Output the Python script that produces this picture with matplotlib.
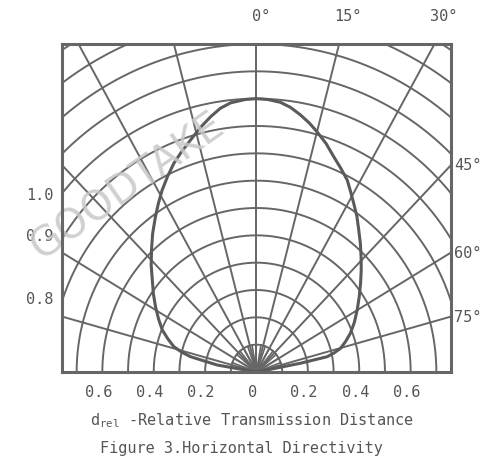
import numpy as np
import matplotlib
matplotlib.use('Agg')
import matplotlib.pyplot as plt
import matplotlib.transforms as mtransforms

# ==========================================
# Data
# ==========================================
# horizontal directivity: angle (deg, 0 = axis) vs relative transmission distance
angle_deg = [-90, -80.5, -77.7, -76.0, -73.9, -70.6, -67.2, -63.0, -58.7, -54.5,
             -50.3, -46.4, -42.5, -38.6, -34.7, -31.8, -28.9, -25.8, -22.8, -19.8,
             -16.8, -13.8, -10.8, -8.3, -5.8, -2.5, 0, 2.5, 5.4, 7.8,
             10.3, 12.7, 15.0, 18.0, 20.9, 23.8, 26.7, 29.0, 31.5, 34.5,
             37.4, 40.7, 44.0, 47.6, 51.3, 55.5, 59.9, 64.5, 68.8, 72.2,
             75.2, 77.0, 78.5, 79.4, 90]
rel_dist = [0.0, 0.155, 0.263, 0.300, 0.335, 0.366, 0.398, 0.428, 0.460, 0.493,
            0.527, 0.566, 0.605, 0.648, 0.691, 0.725, 0.760, 0.795, 0.829, 0.858,
            0.887, 0.920, 0.951, 0.975, 0.990, 0.998, 1.0, 0.998, 0.991, 0.977,
            0.956, 0.934, 0.910, 0.878, 0.843, 0.814, 0.786, 0.755, 0.724, 0.690,
            0.655, 0.620, 0.586, 0.552, 0.519, 0.485, 0.453, 0.422, 0.392, 0.364,
            0.338, 0.310, 0.281, 0.174, 0.0]

x_ticks = [-0.6, -0.4, -0.2, 0, 0.2, 0.4, 0.6]
x_tick_labels = ['0.6', '0.4', '0.2', '0', '0.2', '0.4', '0.6']
top_angle_labels = ['0°', '15°', '30°']
right_angle_labels = ['45°', '60°', '75°']
left_labels = ['1.0', '0.9', '0.8']

GRID = '#666666'
TEXT = '#555555'
FONT = 'DejaVu Sans Mono'
plt.rcParams['font.family'] = FONT
plt.rcParams['mathtext.fontset'] = 'custom'
plt.rcParams['mathtext.rm'] = FONT

fig = plt.figure(figsize=(4.81, 4.61), dpi=100)
ax = fig.add_axes([62 / 481, 1 - 372 / 461, 389 / 481, 328 / 461])
ax.set_xlim(-0.757, 0.757)
ax.set_ylim(0, 1.2)

# ---- polar grid (rings every 0.1, spokes every 15 deg) ----
t = np.radians(np.linspace(-90, 90, 361))
for r in np.arange(0.1, 1.45, 0.1):
    ax.plot(r * np.sin(t), r * np.cos(t), color=GRID, lw=1.4, zorder=2)

for a in range(-75, 76, 15):
    ar = np.radians(a)
    ax.plot([0, 2 * np.sin(ar)], [0, 2 * np.cos(ar)], color=GRID, lw=1.4, zorder=2)

# dense spokes inside the smallest ring
for a in range(-90, 91, 10):
    ar = np.radians(a)
    ax.plot([0, 0.1 * np.sin(ar)], [0, 0.1 * np.cos(ar)], color=GRID, lw=1.2, zorder=2)

# ---- directivity curve ----
th = np.radians(angle_deg)
rd = np.array(rel_dist)
ax.plot(rd * np.sin(th), rd * np.cos(th), color='#5a5a5a', lw=2.2, zorder=3,
        solid_joinstyle='round')

for s in ax.spines.values():
    s.set_color(GRID)
    s.set_linewidth(2.2)
    s.set_zorder(5)

# ---- ticks / labels ----
ax.set_xticks(x_ticks)
ax.set_xticklabels(x_tick_labels, fontsize=11, color=TEXT)
ax.tick_params(axis='x', length=0, pad=9)
ax.set_yticks([])
shift = mtransforms.ScaledTranslation(-4 / 100, 0, fig.dpi_scale_trans)
for lbl in ax.get_xticklabels():
    lbl.set_transform(lbl.get_transform() + shift)

top_x = [-0.019, 0.303, 0.677]
for lx, txt in zip(top_x, top_angle_labels):
    ax.text(lx, 1.30, txt, ha='left', va='center', fontsize=11, color=TEXT, clip_on=False)

right_y = [0.757, 0.435, 0.198]
for ly, txt in zip(right_y, right_angle_labels):
    ax.text(0.770, ly, txt, ha='left', va='center', fontsize=11, color=TEXT, clip_on=False)

left_y = [0.644, 0.494, 0.267]
for ly, txt in zip(left_y, left_labels):
    ax.text(-0.79, ly, txt, ha='right', va='center', fontsize=11, color=TEXT, clip_on=False)

# watermark
ax.text(-0.50, 0.68, 'GOODTAKE', rotation=35, ha='center', va='center', fontsize=29,
        family='DejaVu Sans', color='#c8c8c8', alpha=0.85, zorder=4, clip_on=False)

fig.text(252 / 481, 1 - 421 / 461, r'd$_{\mathrm{rel}}$ -Relative Transmission Distance',
         ha='center', va='center', fontsize=11, color=TEXT)
fig.text(241 / 481, 1 - 448 / 461, 'Figure 3.Horizontal Directivity',
         ha='center', va='center', fontsize=11, color=TEXT)

fig.savefig('out.png', dpi=100)
